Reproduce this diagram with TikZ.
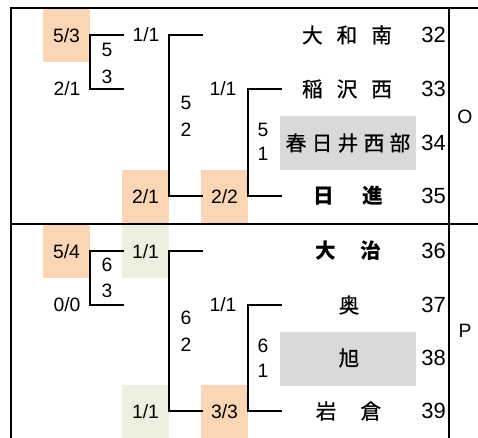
\documentclass[tikz,border=0pt]{standalone}
\usepackage{fontspec}
\setmainfont{Liberation Sans}
\newfontfamily\jp[FakeBold=0.6]{Noto Sans CJK JP}
\newfontfamily\jpb{Noto Sans CJK JP}
\definecolor{sorange}{HTML}{FCD5B4}
\definecolor{sgreen}{HTML}{EBF1DE}
\definecolor{sgray}{HTML}{D9D9D9}
\begin{document}
\begin{tikzpicture}[x=0.75pt,y=-0.75pt,
  score/.style={font=\fontsize{14.5}{15}\selectfont, inner sep=0pt},
  sbox/.style={score, fill=#1, minimum width=35.25pt, minimum height=39.75pt},
  digit/.style={font=\fontsize{14.5}{15}\selectfont, inner sep=0pt},
  tname/.style={font=\jp\fontsize{15.5}{16}\selectfont, inner sep=0pt},
  bname/.style={font=\jpb\bfseries\fontsize{15.5}{16}\selectfont, inner sep=0pt},
  num/.style={font=\fontsize{16.5}{17}\selectfont, anchor=east, inner sep=0pt},
  grp/.style={font=\fontsize{14.5}{15}\selectfont, inner sep=0pt},
  gbox/.style={fill=sgray, draw=none, inner sep=0pt, minimum width=102pt, minimum height=40.5pt},
  brk/.style={line width=1.5pt},
  frm/.style={line width=1.5pt}]
\useasboundingbox (0,0) rectangle (478,438);
% frame
\coordinate (fTL) at (11,8);
\coordinate (fTR) at (478,8);
\coordinate (fBL) at (11,438);
\coordinate (fML) at (11,224);
\coordinate (fMR) at (478,224);
\coordinate (cT) at (449,8);
\coordinate (cB) at (449,438);
\draw[frm] (fBL) -- (fTL) -- (fTR);
\draw[frm] (fML) -- (fMR);
\draw[frm] (cT) -- (cB);
% gray boxes
\node[gbox] (g1) at (348,143) {};
\node[gbox] (g2) at (348,358.5) {};
% score boxes top
\node[sbox=sorange] (s53) at (66.5,36) {5/3};
\node[score] (s21a) at (67,89) {2/1};
\node[digit] (d5a) at (107,50) {5};
\node[digit] (d3a) at (107,77) {3};
\node[score] (s11a) at (146,35) {1/1};
\node[digit] (d5b) at (186,103) {5};
\node[digit] (d2b) at (186,130) {2};
\node[sbox=sorange] (s21b) at (145.5,196.5) {2/1};
\node[sbox=sorange] (s22) at (224.5,196.5) {2/2};
\node[score] (s11b) at (223,89) {1/1};
\node[digit] (d5c) at (263,130) {5};
\node[digit] (d1c) at (263,154) {1};
% score boxes bottom
\node[sbox=sorange] (s54) at (66.5,251.5) {5/4};
\node[score] (s00) at (67,305) {0/0};
\node[digit] (d6a) at (107,265) {6};
\node[digit] (d3b) at (107,291) {3};
\node[sbox=sgreen] (s11c) at (145.5,251.5) {1/1};
\node[digit] (d6b) at (186,318) {6};
\node[digit] (d2c) at (186,345) {2};
\node[sbox=sgreen] (s11d) at (145.5,411.5) {1/1};
\node[sbox=sorange] (s33) at (224.5,411.5) {3/3};
\node[score] (s11e) at (223,305) {1/1};
\node[digit] (d6c) at (263,346) {6};
\node[digit] (d1d) at (263,371) {1};
% bracket ends
\coordinate (a1) at (124,35);  \coordinate (a2) at (90,35);
\coordinate (a3) at (90,89);   \coordinate (a4) at (124,89);
\coordinate (b1) at (203,35);  \coordinate (b2) at (169,35);
\coordinate (b3) at (169,196); \coordinate (b4) at (203,196);
\coordinate (c1) at (282,89);  \coordinate (c2) at (248,89);
\coordinate (c3) at (248,196); \coordinate (c4) at (282,196);
\coordinate (e1) at (124,251); \coordinate (e2) at (90,251);
\coordinate (e3) at (90,305);  \coordinate (e4) at (124,305);
\coordinate (f1) at (203,251); \coordinate (f2) at (169,251);
\coordinate (f3) at (169,411); \coordinate (f4) at (203,411);
\coordinate (h1) at (282,305); \coordinate (h2) at (248,305);
\coordinate (h3) at (248,411); \coordinate (h4) at (282,411);
\draw[brk] (a1) -- (a2) -- (a3) -- (a4);
\draw[brk] (b1) -- (b2) -- (b3) -- (b4);
\draw[brk] (c1) -- (c2) -- (c3) -- (c4);
\draw[brk] (e1) -- (e2) -- (e3) -- (e4);
\draw[brk] (f1) -- (f2) -- (f3) -- (f4);
\draw[brk] (h1) -- (h2) -- (h3) -- (h4);
% names
\node[tname] (n32) at (347,35) {大\hspace{10.5pt}和\hspace{10.5pt}南};
\node[tname] (n33) at (347,89) {稲\hspace{10.5pt}沢\hspace{10.5pt}西};
\node[tname] (n34) at (348,143) {春\hspace{4pt}日\hspace{4pt}井\hspace{4pt}西\hspace{4pt}部};
\node[bname] (n35) at (348.5,196) {日\hspace{21pt}進};
\node[bname] (n36) at (348,251) {大\hspace{18.5pt}治};
\node[tname] (n37) at (349,305) {奥};
\node[tname] (n38) at (349,358) {旭};
\node[tname] (n39) at (348.5,411) {岩\hspace{18pt}倉};
% numbers
\node[num] (k32) at (446,35) {32};
\node[num] (k33) at (446,89) {33};
\node[num] (k34) at (446,143) {34};
\node[num] (k35) at (446,196) {35};
\node[num] (k36) at (446,251) {36};
\node[num] (k37) at (446,305) {37};
\node[num] (k38) at (446,358) {38};
\node[num] (k39) at (446,411) {39};
% group labels
\node[grp] (gO) at (465,117) {O};
\node[grp] (gP) at (465,331) {P};
\end{tikzpicture}
\end{document}
